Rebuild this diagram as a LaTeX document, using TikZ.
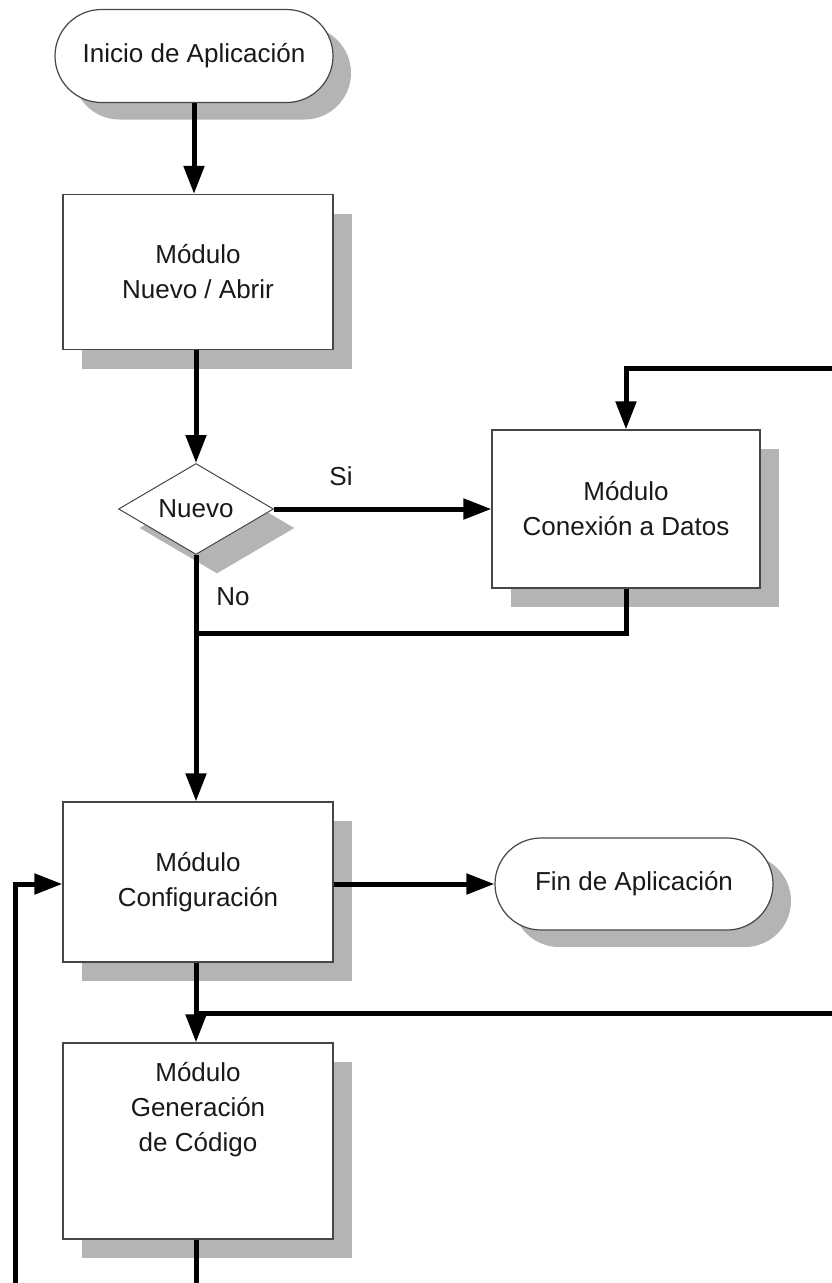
\documentclass[tikz,border=0pt]{standalone}
\usepackage{fontspec}
\setmainfont{Liberation Sans}
\usetikzlibrary{arrows.meta,shapes.geometric,shapes.misc,shadows}
\definecolor{shgray}{RGB}{180,180,180}
\definecolor{edgegray}{RGB}{70,70,70}
\definecolor{inkgray}{RGB}{25,25,25}
\begin{document}
\begin{tikzpicture}[x=1pt,y=-1pt,
  every node/.style={font=\fontsize{26}{35}\selectfont, text=inkgray, align=center},
  boxshadow/.style={drop shadow={shadow xshift=19pt, shadow yshift=-19pt, fill=shgray, opacity=1, draw=none}},
  proc/.style={rectangle, draw=edgegray, line width=1.2pt, fill=white,
    minimum width=270pt, inner sep=0pt, boxshadow},
  term/.style={rounded rectangle, draw=edgegray, line width=1.2pt, fill=white,
    minimum width=278pt, minimum height=93pt, inner sep=0pt,
    drop shadow={shadow xshift=18pt, shadow yshift=-17pt, fill=shgray, opacity=1, draw=none}},
  decide/.style={diamond, draw=edgegray, line width=1pt, fill=white,
    minimum width=155pt, minimum height=91pt, inner sep=0pt, aspect=1.7,
    drop shadow={shadow xshift=21pt, shadow yshift=-19pt, fill=shgray, opacity=1, draw=none}},
  flow/.style={line width=5pt, -{Triangle[length=28pt,width=20pt]}},
  link/.style={line width=5pt}
]
\useasboundingbox (0,0) rectangle (832,1283);

% process chain
\node[term] (start) at (194,56) {Inicio de Aplicación};
\node[proc, minimum height=155pt] (nuevoabrir) at (198,272) {Módulo\\Nuevo / Abrir};
\node[decide] (nuevo) at (196,509) {Nuevo};
\node[proc, minimum width=268pt, minimum height=158pt] (conexion) at (626,509) {Módulo\\Conexión a Datos};
\node[proc, minimum height=160pt] (config) at (198,882) {Módulo\\Configuración};
\node[term, minimum height=92pt] (fin) at (634,884) {Fin de Aplicación};
\node[proc, minimum height=196pt] (gen) at (198,1141) {};
\node[yshift=31pt] (gentext) at (gen.center) {Módulo\\Generación\\de Código};

% branch labels
\node (si) at (341,476) {Si};
\node (no) at (233,597) {No};

% free ends of connectors
\coordinate (feedtop) at (832,368);
\coordinate (merge) at (196,633);
\coordinate (feedright) at (832,1013);
\coordinate (exitdown) at (196,1283);
\coordinate (loopin) at (15,1283);

% connectors
\draw[flow] (start.south) -- (start.south |- nuevoabrir.north);
\draw[flow] (nuevoabrir.south -| nuevo) -- (nuevo.north);
\draw[flow] (nuevo.east) -- (conexion.west);
\draw[flow] (feedtop) -| (conexion.north);
\draw[link] (conexion.south) |- (merge);
\draw[flow] (nuevo.south) -- (nuevo.south |- config.north);
\draw[flow] (config.east |- fin.west) -- (fin.west);
\draw[flow] (config.south -| nuevo) -- (gen.north -| nuevo);
\draw[link] (feedright) -- (feedright -| nuevo);
\draw[link] (gen.south -| nuevo) -- (exitdown);
\draw[flow] (loopin) |- (config.west |- fin.west);
\end{tikzpicture}
\end{document}
